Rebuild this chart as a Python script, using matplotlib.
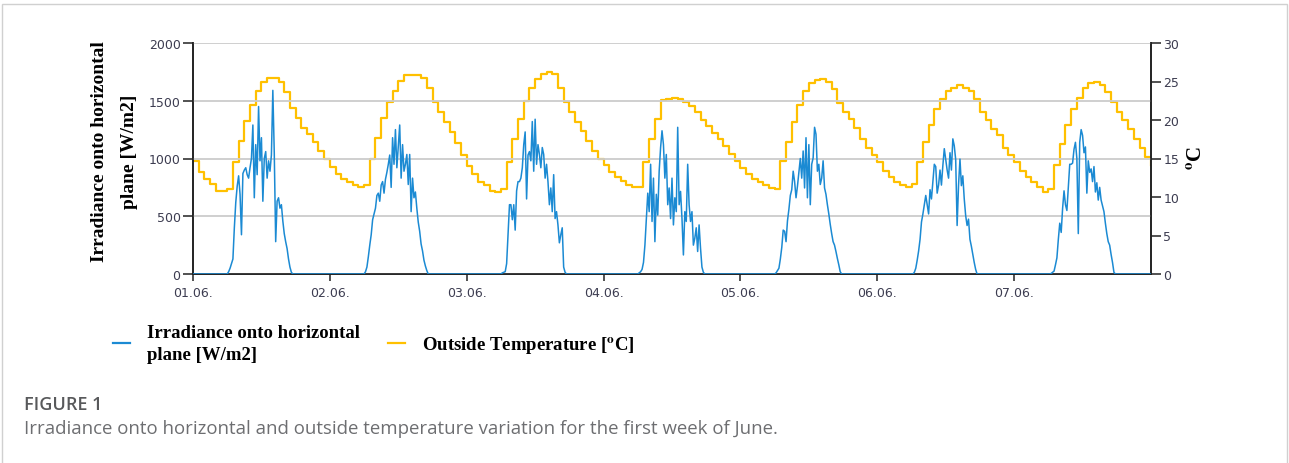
import numpy as np
import matplotlib
matplotlib.use("Agg")
import matplotlib.pyplot as plt
from matplotlib.patches import Rectangle

# ---------------- data ----------------
DAY_LABELS = ["01.06.", "02.06.", "03.06.", "04.06.", "05.06.", "06.06.", "07.06."]

# hourly outside temperature [degC], one list per day (hour 0..23)
temp_d1 = [14.7, 13.2, 12.3, 11.7, 10.8, 10.8, 11.0, 14.5, 17.3, 19.9, 21.9, 23.8,
           24.9, 25.4, 25.5, 24.9, 23.6, 21.6, 20.3, 19.0, 18.2, 17.1, 16.0, 14.9]
temp_d2 = [13.9, 13.0, 12.3, 11.9, 11.5, 11.3, 11.5, 14.9, 17.7, 20.3, 22.3, 23.8,
           25.1, 25.8, 25.9, 25.9, 25.5, 24.2, 22.3, 21.0, 19.7, 18.4, 17.0, 15.5]
temp_d3 = [14.0, 13.0, 11.9, 11.5, 10.8, 10.6, 11.0, 14.5, 17.5, 20.1, 22.5, 24.2,
           25.3, 26.0, 26.2, 26.0, 24.2, 22.3, 21.0, 19.7, 18.6, 17.3, 16.0, 14.9]
temp_d4 = [14.1, 13.2, 12.6, 12.1, 11.6, 11.3, 11.3, 14.5, 17.5, 20.1, 22.6, 22.7,
           22.8, 22.7, 22.4, 21.8, 21.0, 20.0, 19.2, 18.3, 17.5, 16.6, 15.6, 14.7]
temp_d5 = [13.8, 13.0, 12.3, 11.9, 11.5, 11.2, 11.0, 14.7, 17.2, 19.8, 22.0, 23.8,
           24.8, 25.2, 25.3, 25.0, 24.0, 22.2, 21.0, 20.1, 19.0, 17.5, 16.4, 15.4]
temp_d6 = [14.5, 13.4, 12.6, 11.9, 11.5, 11.3, 11.7, 14.5, 17.1, 19.3, 21.4, 22.7,
           23.8, 24.2, 24.5, 24.2, 23.8, 22.7, 21.0, 20.0, 18.8, 18.0, 16.4, 15.4]
temp_d7 = [14.5, 13.4, 12.6, 11.9, 11.3, 10.6, 11.0, 14.1, 16.9, 19.3, 21.4, 22.9,
           24.2, 24.8, 24.9, 24.5, 23.6, 22.3, 21.0, 20.0, 18.8, 17.5, 16.4, 15.2]
temp_end = 14.2

# irradiance [W/m2], 15-min values from 06:00 on, one list per day
irr_d1 = [0, 20, 50, 90, 130, 400, 620, 760, 850, 690, 340, 870, 900, 920, 860, 830,
          920, 1000, 1290, 660, 1120, 860, 1450, 980, 1180, 630, 1000, 1060, 830, 980,
          890, 1030, 1590, 1050, 280, 630, 660, 570, 600, 460, 350, 280, 220, 130, 60,
          15, 0]
irr_d2 = [0, 20, 60, 150, 250, 340, 470, 520, 570, 680, 700, 630, 770, 800, 700, 820,
          880, 950, 1030, 750, 1180, 950, 1250, 920, 1100, 1290, 830, 1120, 890, 950,
          1035, 775, 1035, 540, 830, 660, 710, 570, 450, 370, 260, 200, 120, 70, 30,
          0, 0]
irr_d3 = [0, 10, 15, 20, 90, 350, 600, 600, 470, 600, 380, 720, 800, 800, 830, 920,
          1120, 1230, 650, 1030, 1060, 980, 1320, 890, 1340, 950, 1120, 1035, 920, 1095,
          1035, 830, 950, 800, 600, 745, 540, 860, 480, 540, 425, 270, 340, 400, 60,
          15, 0]
irr_d4 = [0, 10, 20, 40, 100, 250, 480, 700, 540, 950, 455, 830, 280, 690, 510, 890,
          1095, 1240, 1120, 830, 1035, 600, 745, 480, 830, 425, 660, 540, 1270, 600,
          715, 480, 165, 540, 455, 950, 600, 455, 540, 250, 310, 400, 195, 425, 225,
          60, 15, 0]
irr_d5 = [0, 10, 30, 50, 130, 230, 380, 370, 280, 460, 560, 680, 730, 890, 800, 660,
          760, 880, 1000, 830, 1065, 745, 1180, 660, 1120, 600, 950, 1005, 1270, 1210,
          890, 950, 775, 830, 980, 745, 690, 600, 520, 430, 350, 280, 250, 195, 135,
          80, 20, 0]
irr_d6 = [0, 0, 15, 50, 120, 200, 300, 450, 520, 600, 680, 600, 520, 730, 650, 800,
          950, 930, 700, 770, 900, 770, 940, 1085, 995, 900, 830, 1050, 900, 1170, 1110,
          990, 420, 770, 995, 765, 850, 650, 505, 420, 475, 300, 240, 170, 100, 40, 0]
irr_d7 = [0, 0, 5, 15, 25, 80, 140, 300, 440, 360, 570, 720, 600, 550, 750, 950, 950,
          960, 1080, 1140, 1000, 350, 1140, 1250, 1200, 1050, 1100, 700, 980, 880, 910,
          800, 930, 710, 790, 640, 750, 640, 590, 540, 440, 350, 280, 250, 170, 100, 15,
          0]

temps = [temp_d1, temp_d2, temp_d3, temp_d4, temp_d5, temp_d6, temp_d7]
irrs = [irr_d1, irr_d2, irr_d3, irr_d4, irr_d5, irr_d6, irr_d7]

# ---------------- build time axes (in days) ----------------
t_temp = []
v_temp = []
for d, day in enumerate(temps):
    for h, v in enumerate(day):
        t_temp.append(d + h / 24)
        v_temp.append(v)
t_temp.append(len(temps))
v_temp.append(temp_end)

t_irr = [0.0]
v_irr = [0.0]
for d, day in enumerate(irrs):
    for i, v in enumerate(day):
        t_irr.append(d + (6 + 0.25 * i) / 24)
        v_irr.append(v)
t_irr.append(len(irrs))
v_irr.append(0.0)

BLUE = "#1b8ad3"
GOLD = "#ffc000"
TICK_COL = "#3c3c50"

fig = plt.figure(figsize=(12.89, 4.64), dpi=100)

# light frame around the figure panel
fig.patches.append(Rectangle((2 / 1289, -0.01), 1285 / 1289, 1 - 5 / 464 + 0.01,
                             transform=fig.transFigure, fill=False,
                             edgecolor="#d0d0d0", lw=1.0))

ax = fig.add_axes([193 / 1289, 1 - 275 / 464, 958 / 1289, 231 / 464])
ax2 = ax.twinx()

l1, = ax.plot(t_irr, v_irr, color=BLUE, lw=1.1, zorder=3)
l2, = ax2.step(t_temp, v_temp, where="post", color=GOLD, lw=1.6, zorder=2)

ax.set_xlim(0, 7)
ax.set_ylim(0, 2000)
ax2.set_ylim(0, 30)
ax.set_yticks([0, 500, 1000, 1500, 2000])
ax2.set_yticks([0, 5, 10, 15, 20, 25, 30])
ax.set_xticks(range(7))
ax.set_xticklabels(DAY_LABELS)

ax.yaxis.grid(True, color="#cccccc", lw=1.3)
ax.set_axisbelow(True)

for a in (ax, ax2):
    a.spines["top"].set_visible(False)
    for s in ("left", "right", "bottom"):
        a.spines[s].set_color("#222222")
        a.spines[s].set_linewidth(1.2)
    a.tick_params(colors="#222222", labelcolor=TICK_COL, labelsize=9,
                  length=7, width=1.1, pad=2)
ax.tick_params(axis="x", length=5, pad=4)
ax.set_zorder(ax2.get_zorder() + 1)
ax.patch.set_visible(False)

serif = ["Liberation Serif", "DejaVu Serif"]
plt.rcParams["mathtext.fontset"] = "stix"

fig.text(99 / 1289, 1 - 152 / 464, "Irradiance onto horizontal",
         rotation=90, ha="center", va="center", family=serif,
         fontweight="bold", fontsize=14)
fig.text(129 / 1289, 1 - 152 / 464, "plane [W/m2]",
         rotation=90, ha="center", va="center", family=serif,
         fontweight="bold", fontsize=14)
fig.text(1197 / 1289, 1 - 158 / 464, r"$^{\mathbf{o}}$C", rotation=90,
         ha="center", va="center", family=serif, fontweight="bold", fontsize=15)

leg = fig.legend([l1, l2],
                 ["Irradiance onto horizontal\nplane [W/m2]",
                  r"Outside Temperature [$^{\mathbf{o}}$C]"],
                 loc="upper left", bbox_to_anchor=(113 / 1289, 1 - 325 / 464),
                 ncol=2, frameon=False, handlelength=0.9, handletextpad=0.9,
                 columnspacing=1.5, borderpad=0, borderaxespad=0,
                 labelspacing=0.2,
                 prop={"family": serif, "weight": "bold", "size": 13.5})
for txt in leg.get_texts():
    txt.set_linespacing(1.35)
for ln in leg.get_lines():
    ln.set_linewidth(1.6)

cap_font = ["Open Sans", "DejaVu Sans"]
fig.text(24 / 1289, 1 - 405 / 464, "FIGURE 1", ha="left", va="center",
         family=cap_font, fontsize=13, fontweight="semibold", color="#58595b")
fig.text(24 / 1289, 1 - 429 / 464,
         "Irradiance onto horizontal and outside temperature variation for the first week of June.",
         ha="left", va="center", family=cap_font,
         fontsize=13.4, color="#6d6e71")

fig.savefig("out.png", dpi=100)
